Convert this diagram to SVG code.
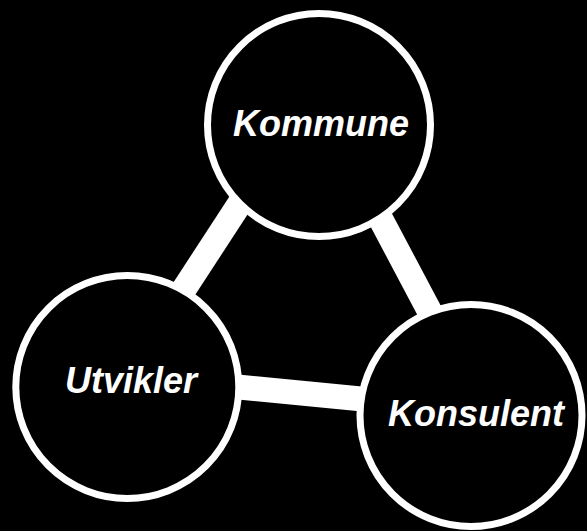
<svg xmlns="http://www.w3.org/2000/svg" width="587" height="531" viewBox="0 0 587 531">
<style>
.bg{fill:#000}
.link{stroke:#fff;stroke-width:25;stroke-linecap:butt;fill:none}
.node{fill:#000;stroke:#fff;stroke-width:7}
.lbl{font-family:"Liberation Sans",Arial,sans-serif;font-size:36px;font-weight:bold;font-style:italic;fill:#fff;text-anchor:middle}
</style>
<rect class="bg" x="0" y="0" width="587" height="531"/>
<g id="connectors">
<line class="link" x1="130.8" y1="370.6" x2="267.5" y2="161.1"/>
<line class="link" x1="354.5" y1="169.5" x2="452.8" y2="355.1"/>
<line class="link" x1="180" y1="381.3" x2="430" y2="405.6"/>
</g>
<g id="kommune">
<circle class="node" cx="319" cy="125" r="111.5"/>
<text class="lbl" x="321" y="136">Kommune</text>
</g>
<g id="utvikler">
<circle class="node" cx="127.3" cy="387" r="111.5"/>
<text class="lbl" x="131" y="392.5">Utvikler</text>
</g>
<g id="konsulent">
<circle class="node" cx="471" cy="415.5" r="111"/>
<text class="lbl" x="476" y="426">Konsulent</text>
</g>
</svg>
